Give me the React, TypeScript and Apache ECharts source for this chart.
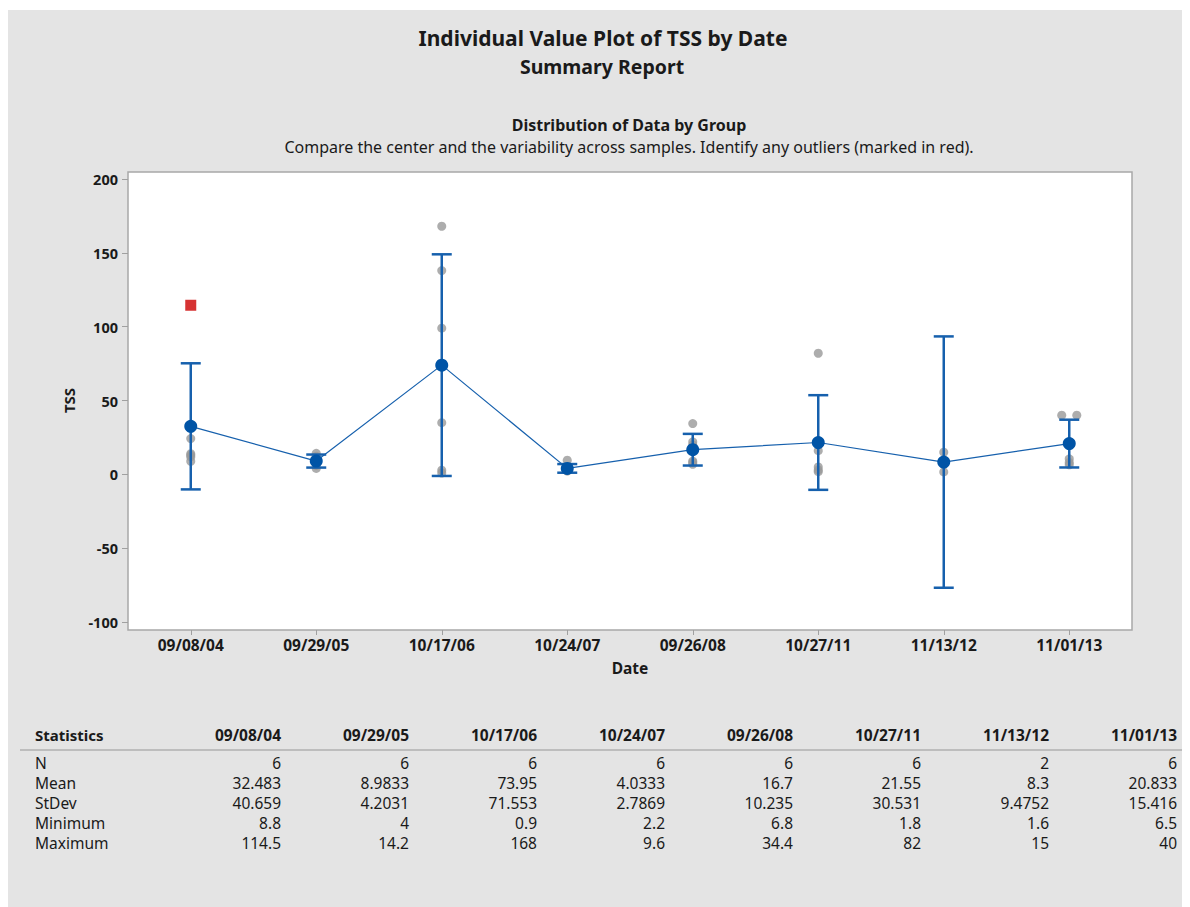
import React, { useEffect, useRef } from "react";
import * as echarts from "echarts";

const categories = ["09/08/04", "09/29/05", "10/17/06", "10/24/07", "09/26/08", "10/27/11", "11/13/12", "11/01/13"];

// individual (non-outlier) observations per group
const individualValues: number[][] = [
  [24.2, 14.0, 13.0, 11.8, 8.8],
  [14.2, 12.2, 9.0, 8.5, 6.0, 4.0],
  [168, 138, 99, 35, 2.8, 0.9],
  [9.6, 3.7, 3.2, 3.0, 2.5, 2.2],
  [34.4, 22, 20, 9, 8, 6.8],
  [82, 21.5, 16, 5, 3, 1.8],
  [15, 1.6],
  [40, 40, 20, 10.5, 8, 6.5],
];

const outlierGroups = [0];
const outlierValues = [114.5];

const means = [32.483, 8.9833, 73.95, 4.0333, 16.7, 21.55, 8.3, 20.833];
const ciLower = [-10.2, 4.57, -1.1, 1.1, 5.96, -10.5, -76.8, 4.65];
const ciUpper = [75.2, 13.4, 149.0, 6.96, 27.4, 53.6, 93.4, 37.0];

const yTicks = { min: -100, max: 200, interval: 50 };

const statRowLabels = ["N", "Mean", "StDev", "Minimum", "Maximum"];
const statN = ["6", "6", "6", "6", "6", "6", "2", "6"];
const statMean = ["32.483", "8.9833", "73.95", "4.0333", "16.7", "21.55", "8.3", "20.833"];
const statStDev = ["40.659", "4.2031", "71.553", "2.7869", "10.235", "30.531", "9.4752", "15.416"];
const statMin = ["8.8", "4", "0.9", "2.2", "6.8", "1.8", "1.6", "6.5"];
const statMax = ["114.5", "14.2", "168", "9.6", "34.4", "82", "15", "40"];

const FONT = "'Noto Sans', 'Open Sans', sans-serif";
const TXT = "#1a1a1a";
const BLUE = "#0054a6";
const BAR = "#1660ad";

export default function App() {
  const ref = useRef<HTMLDivElement>(null);

  useEffect(() => {
    if (!ref.current) return;
    const chart = echarts.init(ref.current, undefined, { renderer: "svg" });

    // spread tied values horizontally
    const points: number[][] = [];
    individualValues.forEach((vals, g) => {
      const counts: Record<string, number> = {};
      vals.forEach((v) => (counts[v] = (counts[v] || 0) + 1));
      const seen: Record<string, number> = {};
      vals.forEach((v) => {
        const n = counts[v];
        const k = seen[v] || 0;
        seen[v] = k + 1;
        const off = n > 1 ? (k - (n - 1) / 2) * 0.12 : 0;
        points.push([g + off, v]);
      });
    });

    const statRows = [statN, statMean, statStDev, statMin, statMax];
    const colRight = (i: number) => 273 + i * 128;
    const tableTexts: any[] = [];
    tableTexts.push({
      type: "text", x: 27, y: 725, z: 10,
      style: { text: "Statistics", font: `bold 15px ${FONT}`, fill: TXT, align: "left", verticalAlign: "middle" },
    });
    categories.forEach((c, i) => {
      tableTexts.push({
        type: "text", x: colRight(i), y: 725, z: 10,
        style: { text: c, font: `bold 15.5px ${FONT}`, fill: TXT, align: "right", verticalAlign: "middle" },
      });
    });
    statRowLabels.forEach((lab, r) => {
      const y = 753 + r * 20;
      tableTexts.push({
        type: "text", x: 27, y, z: 10,
        style: { text: lab, font: `15.5px ${FONT}`, fill: TXT, align: "left", verticalAlign: "middle" },
      });
      statRows[r].forEach((v, i) => {
        tableTexts.push({
          type: "text", x: colRight(i), y, z: 10,
          style: { text: v, font: `15.5px ${FONT}`, fill: TXT, align: "right", verticalAlign: "middle" },
        });
      });
    });

    chart.setOption({
      animation: false,
      backgroundColor: "#e4e4e4",
      graphic: [
        { type: "rect", z: 0, shape: { x: 120, y: 162, width: 1004, height: 458 }, style: { fill: "#ffffff", stroke: "#a8a8a8", lineWidth: 1.5 } },
        { type: "line", z: 0, shape: { x1: 12, y1: 740, x2: 1182, y2: 740 }, style: { stroke: "#bdbdbd", lineWidth: 2 } },
        { type: "text", x: 595, y: 28, z: 10, style: { text: "Individual Value Plot of TSS by Date", font: `bold 21px ${FONT}`, fill: TXT, align: "center", verticalAlign: "middle" } },
        { type: "text", x: 594, y: 56, z: 10, style: { text: "Summary Report", font: `bold 19.5px ${FONT}`, fill: TXT, align: "center", verticalAlign: "middle" } },
        { type: "text", x: 621, y: 115, z: 10, style: { text: "Distribution of Data by Group", font: `bold 16px ${FONT}`, fill: TXT, align: "center", verticalAlign: "middle" } },
        { type: "text", x: 621, y: 137, z: 10, style: { text: "Compare the center and the variability across samples. Identify any outliers (marked in red).", font: `16px ${FONT}`, fill: TXT, align: "center", verticalAlign: "middle" } },
        ...tableTexts,
      ],
      grid: { left: 120, top: 169, width: 1004, height: 443, containLabel: false },
      xAxis: [
        {
          type: "category", data: categories, boundaryGap: true, offset: 8,
          axisLine: { show: false, onZero: false },
          axisTick: { show: true, alignWithLabel: true, length: 5, lineStyle: { color: "#a0a0a0" } },
          axisLabel: { fontFamily: FONT, fontWeight: "bold", fontSize: 15.5, color: TXT, margin: 7 },
          name: "Date", nameLocation: "middle", nameGap: 30,
          nameTextStyle: { fontFamily: FONT, fontWeight: "bold", fontSize: 15.5, color: TXT },
          splitLine: { show: false },
        },
        { type: "value", min: -0.5, max: 7.5, show: false, axisLine: { onZero: false } },
      ],
      yAxis: {
        type: "value", min: yTicks.min, max: yTicks.max, interval: yTicks.interval,
        axisLine: { show: false, onZero: false },
        axisTick: { show: true, length: 6, lineStyle: { color: "#a0a0a0" } },
        axisLabel: { fontFamily: FONT, fontWeight: "bold", fontSize: 14.5, color: TXT, margin: 10 },
        splitLine: { show: false },
        name: "TSS", nameLocation: "middle", nameGap: 52,
        nameTextStyle: { fontFamily: FONT, fontWeight: "bold", fontSize: 15, color: TXT },
      },
      series: [
        {
          type: "scatter", xAxisIndex: 1, z: 2, symbol: "circle", symbolSize: 9,
          itemStyle: { color: "#999999" }, data: points,
        },
        {
          type: "scatter", xAxisIndex: 1, z: 2, symbol: "rect", symbolSize: 11,
          itemStyle: { color: "#cc0000" },
          data: outlierGroups.map((g, i) => [g, outlierValues[i]]),
        },
        {
          type: "custom", xAxisIndex: 1, z: 3, coordinateSystem: "cartesian2d",
          data: categories.map((_, i) => [i, ciLower[i], ciUpper[i]]),
          renderItem: (params: any, api: any) => {
            const x = api.value(0);
            const lo = api.coord([x, api.value(1)]);
            const hi = api.coord([x, api.value(2)]);
            const w = 10;
            const st = { stroke: BAR, lineWidth: 2.5 };
            return {
              type: "group",
              children: [
                { type: "line", shape: { x1: lo[0], y1: lo[1], x2: hi[0], y2: hi[1] }, style: st },
                { type: "line", shape: { x1: hi[0] - w, y1: hi[1], x2: hi[0] + w, y2: hi[1] }, style: st },
                { type: "line", shape: { x1: lo[0] - w, y1: lo[1], x2: lo[0] + w, y2: lo[1] }, style: st },
              ],
            };
          },
        },
        {
          type: "line", xAxisIndex: 1, z: 4, symbol: "circle", symbolSize: 13, showSymbol: true,
          itemStyle: { color: BLUE }, lineStyle: { color: BAR, width: 1.2 },
          data: means.map((m, i) => [i, m]),
        },
      ],
    });
    return () => chart.dispose();
  }, []);

  return (
    <div style={{ paddingTop: 2 }}>
      <div ref={ref} style={{ width: 1182, height: 897 }} />
    </div>
  );
}
